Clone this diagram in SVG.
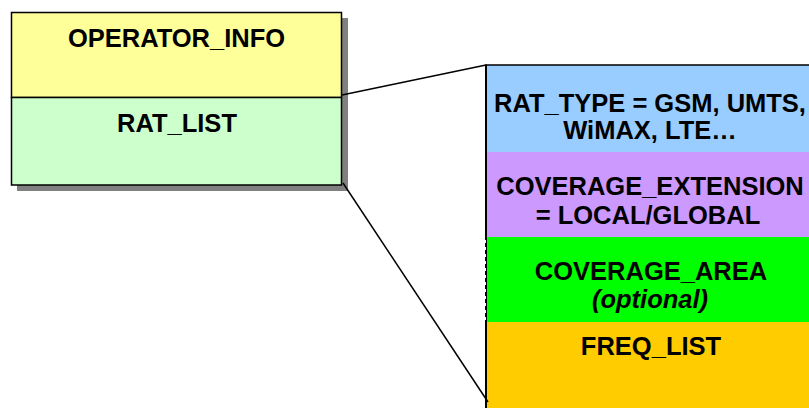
<svg xmlns="http://www.w3.org/2000/svg" width="809" height="408" viewBox="0 0 809 408">
<style>
.t{font-family:"Liberation Sans",Arial,sans-serif;font-weight:bold;font-size:25.5px;fill:#000;text-anchor:middle}
.i{font-style:italic}
.b{stroke:#000;stroke-width:1.5}
.c{stroke:#000;stroke-width:1.5;fill:none}
</style>
<rect x="17" y="18" width="331" height="173" fill="#808080"/>
<g id="operator_info">
<rect x="11.5" y="12.5" width="330" height="85" fill="#FFFF99" class="b"/>
<text class="t" x="176.5" y="47">OPERATOR_INFO</text>
</g>
<g id="rat_list">
<rect x="11.5" y="97.5" width="330" height="87.5" fill="#CCFFCC" class="b"/>
<text class="t" x="177" y="132">RAT_LIST</text>
</g>
<g id="rat_type">
<rect x="486" y="65" width="330" height="87" fill="#99CCFF"/>
<text class="t" x="650" y="112">RAT_TYPE = GSM, UMTS,</text>
<text class="t" x="650" y="138.5">WiMAX, LTE…</text>
</g>
<g id="coverage_extension">
<rect x="486" y="152" width="330" height="85" fill="#CC99FF"/>
<text class="t" x="650" y="195">COVERAGE_EXTENSION</text>
<text class="t" x="648" y="223.5">= LOCAL/GLOBAL</text>
</g>
<g id="coverage_area">
<rect x="486" y="237" width="330" height="85" fill="#00FF00"/>
<text class="t" x="651" y="280">COVERAGE_AREA</text>
<text class="t i" x="650" y="308">(optional)</text>
</g>
<g id="freq_list">
<rect x="486" y="322" width="330" height="90" fill="#FFCC00"/>
<text class="t" x="651" y="355">FREQ_LIST</text>
</g>
<g id="panel_border">
<line x1="486" y1="65" x2="809" y2="65" class="c"/>
<line x1="486" y1="64.5" x2="486" y2="408" stroke="#000" stroke-width="2"/>
<line x1="485.5" y1="240" x2="485.5" y2="320" stroke="#fff" stroke-width="1" stroke-dasharray="3,4"/>
</g>
<g id="connectors">
<line x1="342" y1="95" x2="486" y2="65" class="c"/>
<line x1="343" y1="183" x2="488" y2="402" class="c"/>
</g>
</svg>
